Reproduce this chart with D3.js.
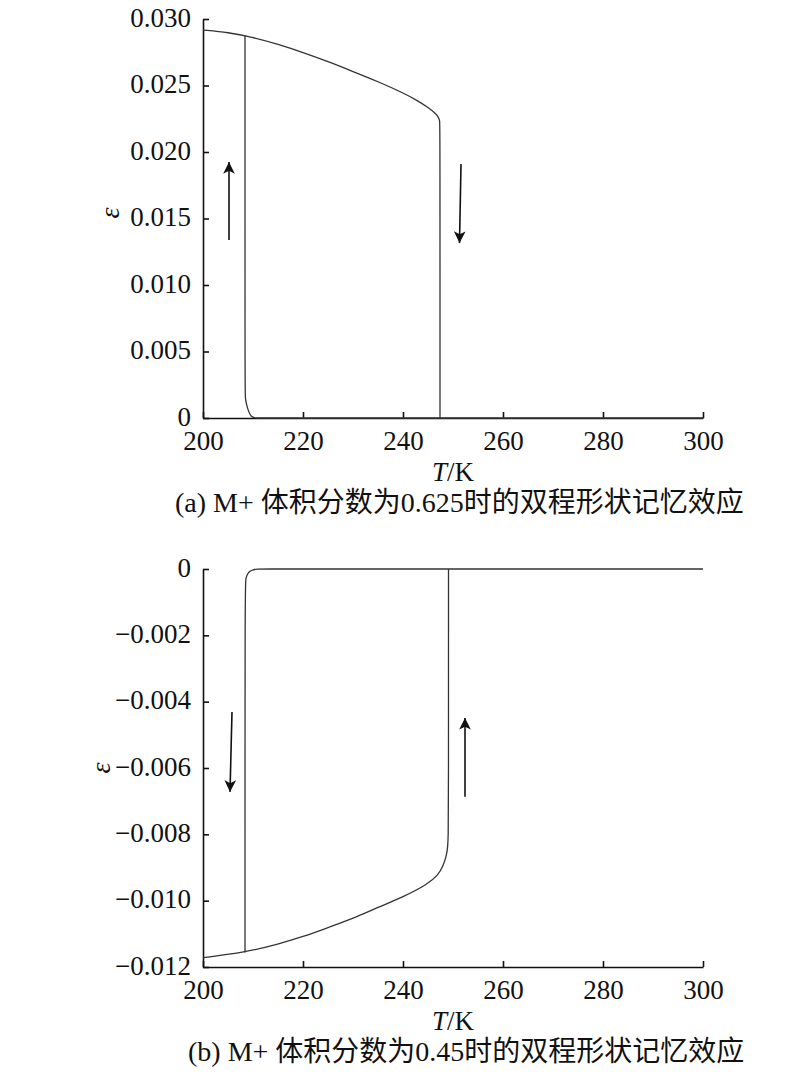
<!DOCTYPE html>
<html>
<head>
<meta charset="utf-8">
<script src="https://cdn.jsdelivr.net/npm/d3@7"></script>
<style>
  html, body { margin: 0; padding: 0; background: #fff; }
  svg text { fill: #111; }
  .lat { font-family: "Liberation Serif", "Times New Roman", serif; }
  .cjk { font-family: "Noto Sans CJK SC", sans-serif; }
</style>
</head>
<body>
<svg id="chart" width="800" height="1075"></svg>
<script>
// ---------- DATA ----------
const xTicks = [200, 220, 240, 260, 280, 300];
const yTicksA = [0, 0.005, 0.010, 0.015, 0.020, 0.025, 0.030];
const yTicksB = [0, -0.002, -0.004, -0.006, -0.008, -0.010, -0.012];

// (a) heating branch: T, strain
const aHeatT = [200, 205, 210, 215, 220, 225, 230, 235, 240, 243, 245, 246.5, 247.1, 247.35, 247.4, 247.4, 247.4];
const aHeatE = [0.02917, 0.02900, 0.02862, 0.02810, 0.02748, 0.02680, 0.02605, 0.02530, 0.02445, 0.02385, 0.02335, 0.02290, 0.02262, 0.02235, 0.02200, 0.0005, 0.0];
// (a) cooling branch
const aCoolT = [300, 300, 260, 220, 212, 210.3, 209.6, 209.1, 208.7, 208.45, 208.4, 208.4, 208.4];
const aCoolE = [0.0, 0.0, 0.0, 0.0, 0.0, 0.0, 0.0001, 0.0005, 0.0010, 0.0015, 0.0022, 0.0287, 0.0288];

// (b) cooling branch (upper)
const bCoolT = [300, 300, 260, 220, 212.5, 210.8, 210.0, 209.4, 208.9, 208.55, 208.4, 208.4, 208.4];
const bCoolE = [0.0, 0.0, 0.0, 0.0, 0.0, 0.0, -0.00002, -0.00006, -0.00014, -0.00028, -0.00050, -0.01150, -0.01156];
// (b) heating branch (lower)
const bHeatT = [200, 200, 208.4, 215, 220, 225, 230.8, 235, 240, 245, 247, 248, 248.6, 248.9, 249.06, 249.1, 249.1, 249.1];
const bHeatE = [-0.01172, -0.01172, -0.01156, -0.01131, -0.01109, -0.01081, -0.01049, -0.01020, -0.00989, -0.00950, -0.00923, -0.00897, -0.00868, -0.00847, -0.00807, -0.0070, -0.0001, 0.0];

// arrows [T1, e1, T2, e2] from tail to tip
const arrowsA = [[205.2, 0.01338, 205.2, 0.01925], [251.6, 0.01910, 251.3, 0.01316]];
const arrowsB = [[205.8, -0.00431, 205.4, -0.00672], [252.4, -0.00687, 252.4, -0.00449]];

// captions split into latin / CJK runs
const captionA = [["(a) M+ ", "lat"], ["体积分数为", "cjk"], ["0.625", "lat"], ["时的双程形状记忆效应", "cjk"]];
const captionB = [["(b) M+ ", "lat"], ["体积分数为", "cjk"], ["0.45", "lat"], ["时的双程形状记忆效应", "cjk"]];

// ---------- DRAW ----------
const svg = d3.select("#chart");
const defs = svg.append("defs");
defs.append("marker").attr("id", "ah")
  .attr("viewBox", "0 0 10 12").attr("refX", 10).attr("refY", 6)
  .attr("markerWidth", 14).attr("markerHeight", 14).attr("markerUnits", "userSpaceOnUse")
  .attr("orient", "auto")
  .append("path").attr("d", "M0,1 L10,6 L0,11 L2.5,6 Z").attr("fill", "#111");

function fmt(d) { return d === 0 ? "0" : d3.format(".3f")(d); }

function panel(cfg) {
  const x = d3.scaleLinear().domain([200, 300]).range([203, 703]);
  const y = d3.scaleLinear().domain(cfg.yDomain).range([cfg.bottom, cfg.top]);
  const g = svg.append("g");

  const xa = g.append("g").attr("transform", `translate(0,${cfg.bottom})`)
    .call(d3.axisBottom(x).tickValues(xTicks).tickSizeInner(-6).tickSizeOuter(0).tickPadding(13).tickFormat(d3.format("d")));
  const ya = g.append("g").attr("transform", "translate(203,0)")
    .call(d3.axisLeft(y).tickValues(cfg.yTicks).tickSizeInner(-6).tickSizeOuter(0).tickPadding(12).tickFormat(fmt));
  [xa, ya].forEach(a => {
    a.attr("font-family", null).attr("font-size", null);
    a.selectAll("path.domain").attr("stroke", "#111").attr("stroke-width", 1.6);
    a.selectAll(".tick line").attr("stroke", "#111").attr("stroke-width", 1.6);
    a.selectAll("text").attr("class", "lat").attr("font-size", 27).attr("fill", "#111");
  });
  ya.selectAll("text").attr("dy", "0.26em");

  const line = d3.line().x(d => x(d[0])).y(d => y(d[1])).curve(d3.curveBasis);
  cfg.series.forEach(s => {
    const pts = s.T.map((t, i) => [t, s.E[i]]);
    g.append("path").attr("d", line(pts)).attr("fill", "none")
      .attr("stroke", "#333").attr("stroke-width", 1.3).attr("stroke-linejoin", "round");
  });

  cfg.arrows.forEach(a => {
    g.append("line").attr("x1", x(a[0])).attr("y1", y(a[1])).attr("x2", x(a[2])).attr("y2", y(a[3]))
      .attr("stroke", "#111").attr("stroke-width", 1.6).attr("marker-end", "url(#ah)");
  });

  // axis titles
  const tk = g.append("text").attr("class", "lat").attr("x", 453).attr("y", cfg.bottom + 63)
    .attr("text-anchor", "middle").attr("font-size", 27);
  tk.append("tspan").attr("font-style", "italic").text("T");
  tk.append("tspan").text("/K");

  g.append("text").attr("class", "lat").attr("transform", `translate(${cfg.epsX},${cfg.epsY}) rotate(-90)`)
    .attr("text-anchor", "middle").attr("font-size", 28).attr("font-style", "italic").text("ε");

  const cap = g.append("text").attr("x", cfg.capX).attr("y", cfg.bottom + 94).attr("font-size", 28);
  cfg.caption.forEach(p => cap.append("tspan").attr("class", p[1]).text(p[0]));
}

panel({
  yDomain: [0, 0.030], top: 19, bottom: 418, yTicks: yTicksA, epsX: 119, epsY: 213,
  series: [{T: aHeatT, E: aHeatE}, {T: aCoolT, E: aCoolE}],
  arrows: arrowsA, caption: captionA, capX: 175
});
panel({
  yDomain: [-0.012, 0], top: 569, bottom: 967, yTicks: yTicksB, epsX: 110, epsY: 768,
  series: [{T: bCoolT, E: bCoolE}, {T: bHeatT, E: bHeatE}],
  arrows: arrowsB, caption: captionB, capX: 188
});
</script>
</body>
</html>
